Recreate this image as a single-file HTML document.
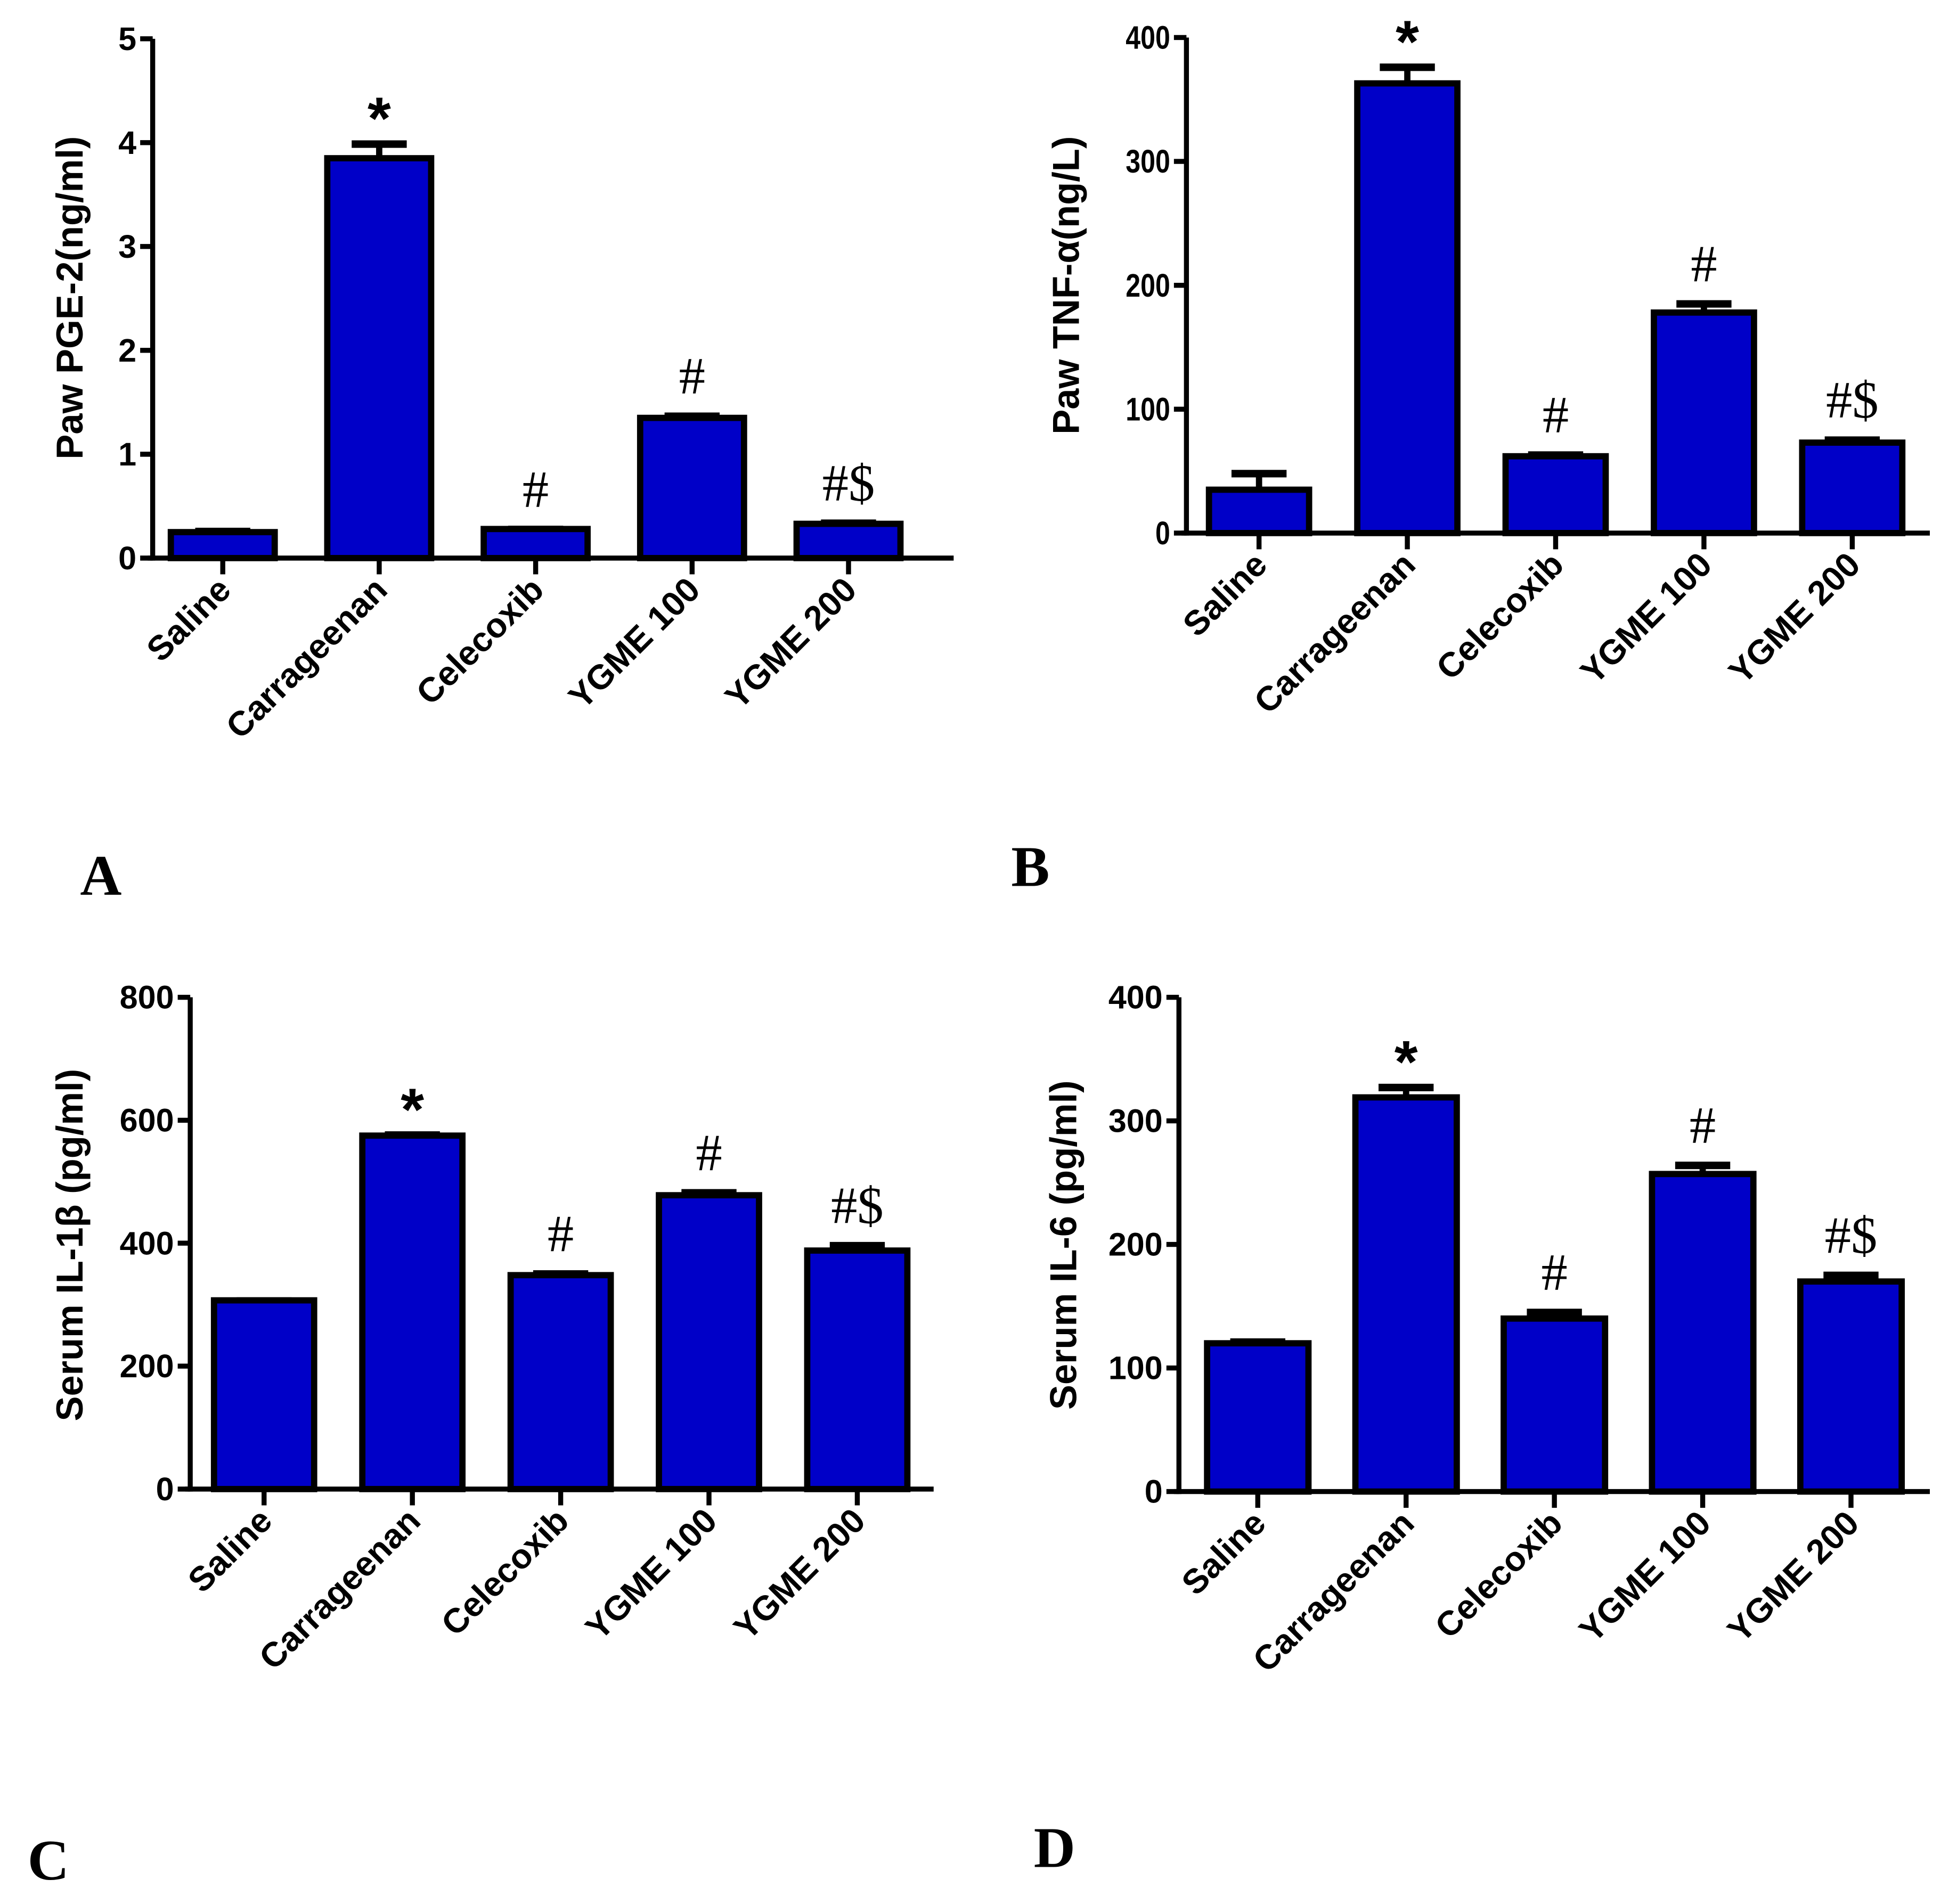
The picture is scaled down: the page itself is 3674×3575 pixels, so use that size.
<!DOCTYPE html>
<html><head><meta charset="utf-8"><style>
html,body{margin:0;padding:0;background:#fff;}
svg{display:block;}
text{font-family:"Liberation Sans",Arial,sans-serif;font-weight:bold;fill:#000;}
</style></head>
<body>
<svg id="fig" width="3674" height="3575" viewBox="0 0 1563.7 1521.6" preserveAspectRatio="none" xmlns="http://www.w3.org/2000/svg"></svg>
<script>
const categories = ["Saline","Carrageenan","Celecoxib","YGME 100","YGME 200"];
const valuesA = [0.25, 3.85, 0.28, 1.35, 0.33];
const errorsA = [0.03, 0.16, 0.02, 0.04, 0.03];
const marksA = ["", "*", "#", "#", "#$"];
const ticksA = [0,1,2,3,4,5];
const valuesB = [35, 363, 62, 178, 73];
const errorsB = [15, 15, 3, 9, 4];
const marksB = ["", "*", "#", "#", "#$"];
const ticksB = [0,100,200,300,400];
const valuesC = [307, 575, 348, 478, 388];
const errorsC = [3, 5, 6, 8, 12];
const marksC = ["", "*", "#", "#", "#$"];
const ticksC = [0,200,400,600,800];
const valuesD = [120, 319, 140, 257, 170];
const errorsD = [3, 10, 7, 9, 7];
const marksD = ["", "*", "#", "#", "#$"];
const ticksD = [0,100,200,300,400];

const NS = "http://www.w3.org/2000/svg";
const svg = document.getElementById("fig");
function mk(tag, attrs, parent){
  const e = document.createElementNS(NS, tag);
  for (const k in attrs) e.setAttribute(k, attrs[k]);
  (parent||svg).appendChild(e);
  return e;
}

function panel(cfg){
  const g = mk("g", {});
  
  
  const yMax = cfg.ticks[cfg.ticks.length-1];
  const y = v => cfg.y0 - (v / yMax) * (cfg.y0 - cfg.yTop);
  const x = i => cfg.x0 + cfg.first + i * cfg.step;
  cfg.values.forEach((v, i) => {
    const cx = x(i), top = y(v), et = y(v + cfg.errors[i]);
    const el = mk("line", {x1:cx, x2:cx, y1:top, y2:et, stroke:"#000","stroke-width":5}, g);
    
    
    const cap = mk("line", {x1:cx-22, x2:cx+22, y1:et+2, y2:et+2, stroke:"#000","stroke-width":6}, g);
    
    
    const r = mk("rect", {x:cx - cfg.bw/2, y:top, width:cfg.bw, height:cfg.y0 - top, fill:"#0000C8", stroke:"#000", "stroke-width":5}, g);
    
    
    const m = cfg.marks[i];
    if (m) {
      const t = mk("text", {x:cx, y:(m==="*" ? et - 2 : et - 16), "text-anchor":"middle",
        "font-size": m==="*" ? 48 : 42}, g);
      if (m !== "*") { t.setAttribute("style","font-family:'Liberation Serif',serif;font-weight:normal"); }
      t.textContent = m;
      
      
    }
    const tk = mk("line", {x1:cx, x2:cx, y1:cfg.y0, y2:cfg.y0+13, stroke:"#000","stroke-width":4}, g);
    
    
    const lx = cx + 8, ly = cfg.y0 + 27;
    const lb = mk("text", {x:lx, y:ly, "text-anchor":"end", "font-size":27.5, transform:`rotate(-45 ${lx} ${ly})`}, g);
    lb.textContent = categories[i];
    
    
  });
  const ya = mk("line", {x1:cfg.x0, x2:cfg.x0, y1:cfg.yTop, y2:cfg.y0+2, stroke:"#000","stroke-width":4}, g);
  
  
  const xa = mk("line", {x1:cfg.x0-4, x2:cfg.xEnd, y1:cfg.y0, y2:cfg.y0, stroke:"#000","stroke-width":4}, g);
  
  
  cfg.ticks.forEach(t => {
    const ty = y(t);
    const l = mk("line", {x1:cfg.x0-10, x2:cfg.x0, y1:ty, y2:ty, stroke:"#000","stroke-width":4}, g);
    
    
    const tx = mk("text", {x:cfg.x0-13, y:ty+9, "text-anchor":"end", "font-size":26}, g);
    if (cfg.condensed) tx.setAttribute("transform", `translate(${cfg.x0-13} 0) scale(0.82 1) translate(${-(cfg.x0-13)} 0)`);
    tx.textContent = t;
    
    
  });
  const tt = mk("text", {x:cfg.titleX, y:cfg.titleY, "text-anchor":"middle", "font-size":30,
    transform:`rotate(-90 ${cfg.titleX} ${cfg.titleY})`}, g);
  tt.textContent = cfg.title;
  
  
  const pl = mk("text", {x:cfg.letterX, y:cfg.letterY, "font-size":46, style:"font-family:'Liberation Serif',serif"}, g);
  pl.textContent = cfg.letter;
  
  
}

panel({name:"panel-a", values:valuesA, errors:errorsA, marks:marksA, ticks:ticksA,
  x0:122, xEnd:762, y0:446, yTop:31, first:56, step:125, bw:83,
  title:"Paw PGE-2(ng/ml)", titleX:66, titleY:238, letter:"A", letterX:64, letterY:715});
panel({name:"panel-b", values:valuesB, errors:errorsB, marks:marksB, ticks:ticksB, condensed:true,
  x0:948, xEnd:1542, y0:426, yTop:30, first:58, step:118.5, bw:80,
  title:"Paw TNF-\u03b1(ng/L)", titleX:862, titleY:228, letter:"B", letterX:808, letterY:708});
panel({name:"panel-c", values:valuesC, errors:errorsC, marks:marksC, ticks:ticksC,
  x0:152, xEnd:746, y0:1190, yTop:797, first:59, step:118.5, bw:80,
  title:"Serum IL-1\u03b2 (pg/ml)", titleX:66, titleY:995, letter:"C", letterX:22, letterY:1502});
panel({name:"panel-d", values:valuesD, errors:errorsD, marks:marksD, ticks:ticksD,
  x0:942, xEnd:1542, y0:1192, yTop:797, first:63, step:118.5, bw:81,
  title:"Serum IL-6 (pg/ml)", titleX:860, titleY:995, letter:"D", letterX:826, letterY:1492});
</script>
</body></html>
